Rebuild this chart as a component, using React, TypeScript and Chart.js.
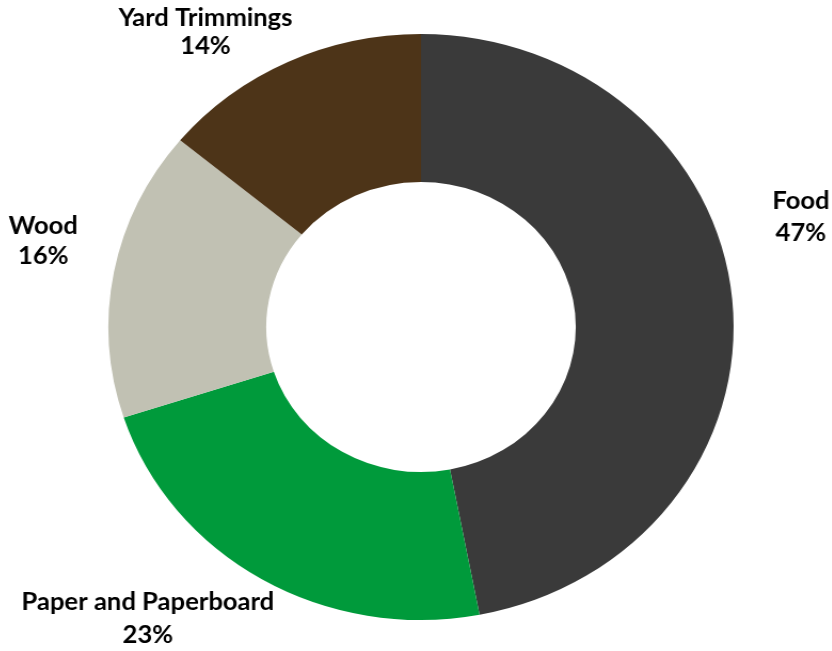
import React, { useEffect, useRef } from 'react';
import { Chart, registerables } from 'chart.js';

Chart.register(...registerables);

const categories = ['Food', 'Paper and Paperboard', 'Wood', 'Yard Trimmings'];
const shares = [47, 23, 16, 14];
const shareLabels = ['47%', '23%', '16%', '14%'];
const sliceColors = ['#3a3a3a', '#009a3b', '#c1c1b3', '#4d3418'];

// label anchor offsets from the doughnut centre (unstretched px)
const labelLayout = [
  { dx: 356, dy: -126, gap: 32 },
  { dx: -256, dy: 275, gap: 33 },
  { dx: -354, dy: -101, gap: 30 },
  { dx: -202, dy: -309, gap: 28 },
];

const labelPlugin = {
  id: 'outerLabels',
  afterDraw(chart: any) {
    const meta = chart.getDatasetMeta(0);
    const arc = meta.data[0];
    if (!arc) return;
    const cx = arc.x;
    const cy = arc.y;
    const ctx = chart.ctx;
    ctx.save();
    ctx.fillStyle = '#000';
    ctx.textAlign = 'center';
    ctx.textBaseline = 'middle';
    ctx.font = 'bold 24px Lato, "Open Sans", sans-serif';
    categories.forEach((name, i) => {
      const p = labelLayout[i];
      ctx.fillText(name, cx + p.dx, cy + p.dy);
      ctx.fillText(shareLabels[i], cx + p.dx, cy + p.dy + p.gap);
    });
    ctx.restore();
  },
};

export default function App() {
  const ref = useRef<HTMLCanvasElement>(null);
  useEffect(() => {
    document.body.style.margin = '0';
    const chart = new Chart(ref.current!, {
      type: 'doughnut',
      data: {
        labels: categories,
        datasets: [
          {
            data: shares,
            backgroundColor: sliceColors,
            borderWidth: 0,
          },
        ],
      },
      options: {
        responsive: false,
        animation: false,
        cutout: '49.5%',
        layout: { padding: { top: 34, bottom: 31, left: 0, right: 0 } },
        plugins: {
          legend: { display: false },
          tooltip: { enabled: false },
        },
      },
      plugins: [labelPlugin],
    });
    return () => chart.destroy();
  }, []);
  return (
    <div
      style={{
        position: 'fixed',
        left: 0,
        top: 0,
        width: 832,
        height: 651,
        overflow: 'hidden',
        background: '#fff',
      }}
    >
      <canvas
        ref={ref}
        width={780}
        height={651}
        style={{
          position: 'absolute',
          left: 31,
          top: 0,
          width: 780,
          height: 651,
          transform: 'scaleX(1.067)',
          transformOrigin: '390px 327px',
        }}
      />
    </div>
  );
}
